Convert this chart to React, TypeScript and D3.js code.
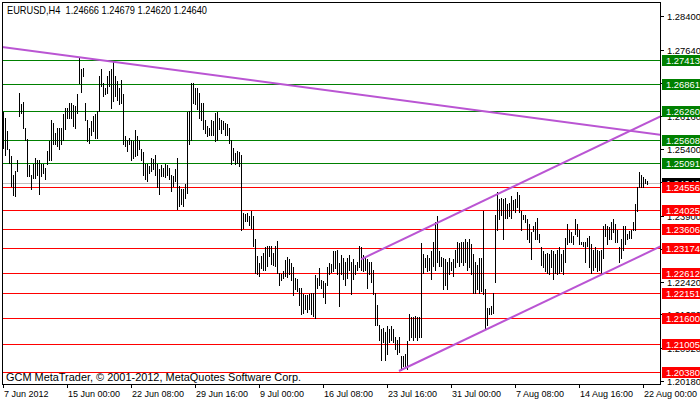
import React from "react";
import * as d3 from "d3";

const titleText = "EURUSD,H4  1.24666 1.24679 1.24620 1.24640";
const copyrightText = "GCM MetaTrader, \u00a9 2001-2012, MetaQuotes Software Corp.";

const barHigh = [
  1.2625, 1.2611, 1.2581, 1.2540, 1.2525, 1.2483, 1.2490, 1.2517, 1.2666, 1.2641,
  1.2647, 1.2588, 1.2564, 1.2504, 1.2483, 1.2506, 1.2521, 1.2517, 1.2517, 1.2506,
  1.2506, 1.2498, 1.2536, 1.2558, 1.2607, 1.2600, 1.2577, 1.2587, 1.2587, 1.2587,
  1.2619, 1.2634, 1.2634, 1.2645, 1.2645, 1.2639, 1.2637, 1.2664, 1.2745, 1.2720,
  1.2724, 1.2645, 1.2607, 1.2588, 1.2603, 1.2615, 1.2619, 1.2626, 1.2706, 1.2720,
  1.2690, 1.2679, 1.2705, 1.2716, 1.2720, 1.2739, 1.2705, 1.2694, 1.2679, 1.2697,
  1.2664, 1.2571, 1.2562, 1.2566, 1.2562, 1.2558, 1.2583, 1.2571, 1.2561, 1.2541,
  1.2534, 1.2506, 1.2506, 1.2502, 1.2521, 1.2519, 1.2528, 1.2506, 1.2495, 1.2504,
  1.2498, 1.2506, 1.2504, 1.2498, 1.2483, 1.2480, 1.2495, 1.2521, 1.2458, 1.2450,
  1.2450, 1.2461, 1.2624, 1.2626, 1.2690, 1.2690, 1.2679, 1.2679, 1.2667, 1.2645,
  1.2645, 1.2607, 1.2592, 1.2588, 1.2607, 1.2603, 1.2622, 1.2624, 1.2611, 1.2606,
  1.2603, 1.2600, 1.2597, 1.2588, 1.2562, 1.2542, 1.2532, 1.2537, 1.2534, 1.2527,
  1.2397, 1.2395, 1.2397, 1.2389, 1.2401, 1.2389, 1.2337, 1.2299, 1.2284, 1.2299,
  1.2307, 1.2319, 1.2323, 1.2322, 1.2322, 1.2307, 1.2322, 1.2333, 1.2262, 1.2260,
  1.2266, 1.2290, 1.2297, 1.2292, 1.2284, 1.2275, 1.2251, 1.2247, 1.2228, 1.2228,
  1.2213, 1.2211, 1.2211, 1.2213, 1.2217, 1.2217, 1.2257, 1.2251, 1.2272, 1.2245,
  1.2243, 1.2239, 1.2275, 1.2284, 1.2281, 1.2311, 1.2311, 1.2314, 1.2284,
  1.2301, 1.2296, 1.2287, 1.2296, 1.2301, 1.2287, 1.2292, 1.2280, 1.2287, 1.2323,
  1.2319, 1.2301, 1.2296, 1.2292, 1.2287, 1.2287, 1.2269, 1.2217, 1.2188, 1.2145,
  1.2134, 1.2138, 1.2129, 1.2141, 1.2134, 1.2141, 1.2134, 1.2116, 1.2111, 1.2116,
  1.2073, 1.2073, 1.2078, 1.2107, 1.2168, 1.2161, 1.2161, 1.2165, 1.2161, 1.2161,
  1.2328, 1.2303, 1.2296, 1.2301, 1.2296, 1.2310, 1.2332, 1.2377, 1.2389, 1.2310,
  1.2298, 1.2296, 1.2292, 1.2287, 1.2296, 1.2287, 1.2292, 1.2314, 1.2330, 1.2328,
  1.2332, 1.2330, 1.2337, 1.2332, 1.2337, 1.2326, 1.2303, 1.2287, 1.2280, 1.2296,
  1.2296, 1.2400, 1.2224, 1.2183, 1.2183, 1.2186, 1.2217, 1.2391, 1.2443, 1.2427,
  1.2431, 1.2427, 1.2431, 1.2416, 1.2420, 1.2434, 1.2425, 1.2427, 1.2443, 1.2438,
  1.2400, 1.2393, 1.2393, 1.2382, 1.2371, 1.2353, 1.2366, 1.2377, 1.2386, 1.2348,
  1.2319, 1.2310, 1.2303, 1.2307, 1.2303, 1.2314, 1.2310, 1.2303, 1.2314, 1.2319,
  1.2303, 1.2314, 1.2341, 1.2371, 1.2359, 1.2353, 1.2344, 1.2382, 1.2371, 1.2359,
  1.2332, 1.2330, 1.2330, 1.2341, 1.2344, 1.2326, 1.2314, 1.2319, 1.2314, 1.2310,
  1.2314, 1.2366, 1.2371, 1.2366, 1.2364, 1.2375, 1.2384, 1.2371, 1.2359, 1.2319,
  1.2337, 1.2366, 1.2366, 1.2348, 1.2355, 1.2359, 1.2375, 1.2416, 1.2456, 1.2488,
  1.2483, 1.2477, 1.2474, 1.2468
];
const barLow = [
  1.2543, 1.2528, 1.2540, 1.2510, 1.2457, 1.2438, 1.2435, 1.2491, 1.2615, 1.2622,
  1.2588, 1.2562, 1.2480, 1.2480, 1.2450, 1.2476, 1.2476, 1.2483, 1.2440, 1.2480,
  1.2487, 1.2472, 1.2506, 1.2517, 1.2517, 1.2551, 1.2551, 1.2547, 1.2540, 1.2551,
  1.2562, 1.2585, 1.2611, 1.2611, 1.2611, 1.2592, 1.2588, 1.2622, 1.2690, 1.2669,
  1.2705, 1.2607, 1.2558, 1.2555, 1.2573, 1.2581, 1.2566, 1.2566, 1.2626, 1.2682,
  1.2660, 1.2664, 1.2667, 1.2682, 1.2634, 1.2649, 1.2660, 1.2652, 1.2641, 1.2645,
  1.2551, 1.2547, 1.2536, 1.2551, 1.2517, 1.2521, 1.2525, 1.2528, 1.2540, 1.2517,
  1.2483, 1.2472, 1.2468, 1.2487, 1.2491, 1.2495, 1.2481, 1.2456, 1.2440, 1.2480,
  1.2480, 1.2478, 1.2481, 1.2472, 1.2446, 1.2457, 1.2468, 1.2405, 1.2412, 1.2416,
  1.2412, 1.2431, 1.2442, 1.2551, 1.2562, 1.2645, 1.2641, 1.2630, 1.2611, 1.2607,
  1.2585, 1.2577, 1.2570, 1.2573, 1.2573, 1.2573, 1.2558, 1.2562, 1.2585, 1.2577,
  1.2585, 1.2573, 1.2572, 1.2555, 1.2506, 1.2517, 1.2507, 1.2510, 1.2502, 1.2359,
  1.2362, 1.2378, 1.2378, 1.2369, 1.2363, 1.2322, 1.2262, 1.2258, 1.2254, 1.2273,
  1.2269, 1.2269, 1.2277, 1.2299, 1.2281, 1.2279, 1.2277, 1.2262, 1.2234, 1.2245,
  1.2249, 1.2254, 1.2252, 1.2258, 1.2245, 1.2211, 1.2224, 1.2220, 1.2190, 1.2168,
  1.2172, 1.2179, 1.2174, 1.2179, 1.2169, 1.2164, 1.2160, 1.2228, 1.2235, 1.2228,
  1.2206, 1.2194, 1.2235, 1.2258, 1.2264, 1.2266, 1.2273, 1.2260, 1.2187,
  1.2258, 1.2247, 1.2235, 1.2251, 1.2269, 1.2213, 1.2247, 1.2258, 1.2269, 1.2274,
  1.2269, 1.2265, 1.2269, 1.2228, 1.2258, 1.2242, 1.2213, 1.2145, 1.2145, 1.2111,
  1.2066, 1.2105, 1.2066, 1.2078, 1.2105, 1.2111, 1.2105, 1.2089, 1.2078, 1.2084,
  1.2042, 1.2051, 1.2051, 1.2044, 1.2111, 1.2118, 1.2111, 1.2118, 1.2111, 1.2116,
  1.2116, 1.2262, 1.2274, 1.2265, 1.2269, 1.2247, 1.2278, 1.2269, 1.2287, 1.2278,
  1.2276, 1.2224, 1.2235, 1.2224, 1.2258, 1.2269, 1.2254, 1.2274, 1.2287, 1.2278,
  1.2287, 1.2280, 1.2287, 1.2269, 1.2274, 1.2258, 1.2217, 1.2217, 1.2224, 1.2217,
  1.2220, 1.2213, 1.2134, 1.2145, 1.2168, 1.2168, 1.2172, 1.2240, 1.2359, 1.2382,
  1.2393, 1.2337, 1.2386, 1.2386, 1.2389, 1.2386, 1.2404, 1.2398, 1.2411, 1.2398,
  1.2359, 1.2382, 1.2375, 1.2337, 1.2330, 1.2292, 1.2355, 1.2337, 1.2337, 1.2330,
  1.2280, 1.2274, 1.2265, 1.2262, 1.2258, 1.2274, 1.2247, 1.2262, 1.2258, 1.2262,
  1.2265, 1.2258, 1.2287, 1.2326, 1.2332, 1.2332, 1.2326, 1.2348, 1.2344, 1.2326,
  1.2326, 1.2321, 1.2287, 1.2321, 1.2274, 1.2262, 1.2269, 1.2274, 1.2265, 1.2269,
  1.2262, 1.2296, 1.2344, 1.2326, 1.2337, 1.2337, 1.2353, 1.2332, 1.2330, 1.2285,
  1.2296, 1.2314, 1.2326, 1.2337, 1.2341, 1.2341, 1.2359, 1.2359, 1.2400, 1.2454,
  1.2456, 1.2456, 1.2465, 1.2462
];

const resistanceLevels = [1.27413, 1.26861, 1.2626, 1.25608, 1.25091];
const supportLevels = [1.24556, 1.24025, 1.23606, 1.23174, 1.22612, 1.22151, 1.216, 1.21005, 1.2038];
const bidPrice = 1.2464;
const priceTicks = [1.284, 1.2764, 1.269, 1.2616, 1.254, 1.2466, 1.239, 1.2316, 1.2242, 1.2168, 1.2092, 1.2018];
const timeTickIndex = [0, 32, 64, 96, 128, 160, 192, 224, 256, 288, 320];
const timeTickLabels = [
  "7 Jun 2012", "15 Jun 00:00", "22 Jun 08:00", "29 Jun 16:00", "9 Jul 00:00",
  "16 Jul 08:00", "23 Jul 16:00", "31 Jul 00:00", "7 Aug 08:00", "14 Aug 16:00", "22 Aug 00:00"
];
const trendStartIndex = [0, 179, 198];
const trendStartPrice = [1.27715, 1.22932, 1.20414];
const trendEndIndex = [320, 320, 320];
const trendEndPrice = [1.2579, 1.25964, 1.23033];
const trendExtendLeft = [true, false, false];

const FONT = "'Liberation Sans', Arial, sans-serif";

export default function App() {
  const W = 700, H = 402;
  const left = 2, right = 660, top = 2, bottom = 384;
  const x = d3.scaleLinear().domain([0, 1]).range([3, 5]);
  const y = d3.scaleLinear().domain([1.27413, 1.2038]).range([60.5, 372.5]);
  const py = (p: number) => Math.floor(y(p)) + 0.5;
  const fmt = (v: number) => v.toFixed(5);

  const trendPaths = trendStartIndex.map((i0, k) => {
    const i1 = trendEndIndex[k];
    const slope = (trendEndPrice[k] - trendStartPrice[k]) / (i1 - i0);
    const a = trendExtendLeft[k] ? x.invert(left) : i0;
    const b = x.invert(right + 2);
    const pts: [number, number][] = [
      [x(a), y(trendStartPrice[k] + slope * (a - i0))],
      [x(b), y(trendStartPrice[k] + slope * (b - i0))],
    ];
    return d3.line()(pts) as string;
  });

  const label = (p: number, bg: string, key: string) => {
    const cy = Math.floor(y(p));
    return (
      <g key={key}>
        <rect x={662} y={cy - 5} width={40} height={11} fill={bg} />
        <text x={666} y={cy + 4} fill="#ffffff" fontSize={9.4} fontFamily={FONT}>{fmt(p)}</text>
      </g>
    );
  };

  return (
    <svg width={W} height={H} style={{ position: "absolute", left: 0, top: 0, background: "#fff" }}>
      <defs>
        <clipPath id="plot">
          <rect x={left} y={top} width={right - left} height={bottom - top} />
        </clipPath>
      </defs>
      <rect x={0} y={0} width={W} height={H} fill="#ffffff" />
      <g clipPath="url(#plot)">
        {resistanceLevels.map((p, i) => (
          <line key={"g" + i} x1={left} x2={right} y1={py(p)} y2={py(p)} stroke="#008000" strokeWidth={1} />
        ))}
        <line x1={left} x2={right} y1={py(bidPrice)} y2={py(bidPrice)} stroke="#c0c0c0" strokeWidth={1} />
        {supportLevels.map((p, i) => (
          <line key={"r" + i} x1={left} x2={right} y1={py(p)} y2={py(p)} stroke="#ff0000" strokeWidth={1} />
        ))}
        {barHigh.map((h, i) => {
          const t = Math.floor(y(h));
          const b = Math.floor(y(barLow[i]));
          return <rect key={"b" + i} x={Math.round(x(i))} y={t} width={1} height={Math.max(1, b - t + 1)} fill="#000" />;
        })}
        {trendPaths.map((d, i) => (
          <path key={"t" + i} d={d} stroke="#ba55d3" strokeWidth={2} fill="none" />
        ))}
      </g>
      <rect x={left + 0.5} y={top + 0.5} width={right - left} height={bottom - top} fill="none" stroke="#000" strokeWidth={1} />
      {priceTicks.map((p, i) => (
        <g key={"yt" + i}>
          <line x1={right} x2={right + 4} y1={py(p)} y2={py(p)} stroke="#000" />
          <text x={667} y={Math.floor(y(p)) + 4} fontSize={9.4} fontFamily={FONT} fill="#000">{fmt(p)}</text>
        </g>
      ))}
      {timeTickIndex.map((idx, i) => (
        <g key={"xt" + i}>
          <line x1={Math.round(x(idx)) + 0.5} x2={Math.round(x(idx)) + 0.5} y1={bottom} y2={bottom + 4} stroke="#000" />
          <text x={Math.round(x(idx)) + 1} y={397} fontSize={9} fontFamily={FONT} fill="#000">{timeTickLabels[i]}</text>
        </g>
      ))}
      {label(bidPrice, "#000000", "bid")}
      {resistanceLevels.map((p, i) => label(p, "#008000", "gl" + i))}
      {supportLevels.map((p, i) => label(p, "#ff0000", "rl" + i))}
      <text x={7} y={14} fontSize={11} fontFamily={FONT} fill="#000" textLength={200} lengthAdjust="spacingAndGlyphs" style={{ whiteSpace: "pre" }}>{titleText}</text>
      <text x={6} y={381} fontSize={11} fontFamily={FONT} fill="#000" textLength={295} lengthAdjust="spacingAndGlyphs">{copyrightText}</text>
    </svg>
  );
}
